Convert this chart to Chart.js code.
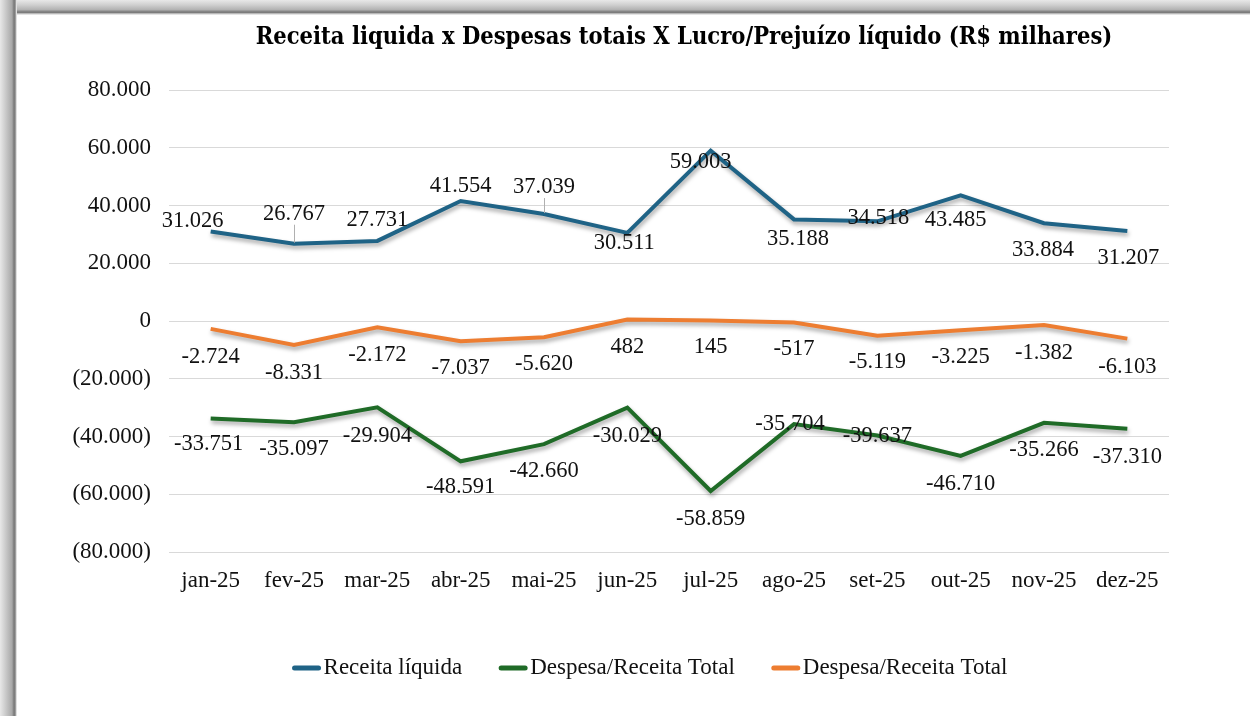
<!DOCTYPE html>
<html>
<head>
<meta charset="utf-8">
<script src="https://cdn.jsdelivr.net/npm/chart.js@4.4.1/dist/chart.umd.min.js"></script>
<style>
  html, body { margin: 0; padding: 0; background: #ffffff; width: 1250px; height: 716px; overflow: hidden; }
  #c { position: absolute; left: 0; top: 0; }
  .ftop { position: absolute; left: 0; top: 0; width: 1250px; height: 15px;
    background: linear-gradient(to bottom, #e8e8e8 0px, #cfcfcf 5px, #b0b0b0 10px, #8a8a8a 11px, #7c7c7c 12.5px, #b8b8b8 13.5px, #e4e4e4 14.5px, #ffffff 15px); }
  .fleft { position: absolute; left: 0; top: 0; width: 17px; height: 716px;
    background: linear-gradient(to right, #e8e8e8 0px, #c8c8c8 6px, #a8a8a8 12px, #858585 13.5px, #7a7a7a 15px, #c0c0c0 16px, #ffffff 17px); }
</style>
</head>
<body>
<canvas id="c" width="1250" height="716"></canvas>
<div class="ftop"></div>
<div class="fleft"></div>
<script>
// ---- data ----
const categories = ['jan-25','fev-25','mar-25','abr-25','mai-25','jun-25','jul-25','ago-25','set-25','out-25','nov-25','dez-25'];
const receitaLiquida = [31026, 26767, 27731, 41554, 37039, 30511, 59003, 35188, 34518, 43485, 33884, 31207];
const despesaTotal   = [-33751, -35097, -29904, -48591, -42660, -30029, -58859, -35704, -39637, -46710, -35266, -37310];
const lucroPrejuizo  = [-2724, -8331, -2172, -7037, -5620, 482, 145, -517, -5119, -3225, -1382, -6103];
const seriesNames = ['Receita líquida', 'Despesa/Receita Total', 'Despesa/Receita Total'];
const yMin = -80000, yMax = 80000, yStep = 20000;
const chartTitle = 'Receita liquida x Despesas totais X Lucro/Prejuízo líquido (R$ milhares)';

// ---- label placement (px offsets from each point) ----
const labelOffsets = [
  [[-18,-10],[0,-30],[0,-21],[0,-15],[0,-27],[-3,10],[-10,11],[4,20],[1,-3],[-5,25],[-1,27],[1,27]],
  [[-2,26],[0,27],[0,29],[0,26],[0,27],[0,28],[0,28],[-4,0],[0,1],[0,28],[0,27],[0,28]],
  [[0,28],[0,28],[0,28],[0,27],[0,27],[0,27],[0,27],[0,27],[0,26],[0,27],[0,28],[0,28]]
];
const leaderLines = [[1,4],[],[]];

const colors = ['#1f6386', '#1f6b27', '#ed7d31'];
const SERIF = '"Liberation Serif", "Times New Roman", serif';

function fmt(v) {
  const s = Math.abs(Math.round(v)).toString().replace(/\B(?=(\d{3})+(?!\d))/g, '.');
  return (v < 0 ? '-' : '') + s;
}
function fmtTick(v) {
  if (v === 0) return '0';
  const s = Math.abs(v).toString().replace(/\B(?=(\d{3})+(?!\d))/g, '.');
  return v < 0 ? '(' + s + ')' : s;
}

const shadowPlugin = {
  id: 'lineShadow',
  beforeDatasetDraw(chart) {
    const ctx = chart.ctx;
    ctx.save();
    ctx.shadowColor = 'rgba(0,0,0,0.35)';
    ctx.shadowBlur = 4;
    ctx.shadowOffsetX = 1;
    ctx.shadowOffsetY = 3;
  },
  afterDatasetDraw(chart) { chart.ctx.restore(); }
};

const labelPlugin = {
  id: 'valueLabels',
  afterDatasetsDraw(chart) {
    const ctx = chart.ctx;
    ctx.save();
    ctx.font = '22.5px ' + SERIF;
    ctx.textAlign = 'center';
    ctx.textBaseline = 'middle';
    chart.data.datasets.forEach((ds, di) => {
      const meta = chart.getDatasetMeta(di);
      meta.data.forEach((pt, i) => {
        const off = labelOffsets[di][i];
        const x = pt.x + off[0], y = pt.y + off[1];
        if (leaderLines[di].includes(i)) {
          ctx.strokeStyle = '#b0b0b0';
          ctx.lineWidth = 1;
          ctx.beginPath();
          ctx.moveTo(Math.round(pt.x) + 0.5, y + 11);
          ctx.lineTo(Math.round(pt.x) + 0.5, pt.y - 1);
          ctx.stroke();
        }
        ctx.fillStyle = '#111111';
        ctx.fillText(fmt(ds.data[i]), x, y);
      });
    });
    ctx.restore();
  }
};

const titleLegendPlugin = {
  id: 'titleLegend',
  afterDraw(chart) {
    const ctx = chart.ctx;
    ctx.save();
    // title
    ctx.font = 'bold 23.5px "DejaVu Serif Condensed", "DejaVu Serif", serif';
    ctx.fillStyle = '#000000';
    ctx.textAlign = 'center';
    ctx.textBaseline = 'middle';
    ctx.fillText(chartTitle, 684, 38);
    // legend
    ctx.font = '23px ' + SERIF;
    const sw = 28, gapText = 3, gapItem = 37;
    const widths = chart.data.datasets.map(d => ctx.measureText(d.label).width);
    let total = 0;
    widths.forEach((w, i) => { total += sw + gapText + w + (i < widths.length - 1 ? gapItem : 0); });
    let x = 650 - total / 2;
    const y = 668;
    ctx.textAlign = 'left';
    chart.data.datasets.forEach((d, i) => {
      ctx.strokeStyle = d.borderColor;
      ctx.lineWidth = 5;
      ctx.lineCap = 'round';
      ctx.beginPath();
      ctx.moveTo(x + 2, y);
      ctx.lineTo(x + sw - 2, y);
      ctx.stroke();
      ctx.fillStyle = '#111111';
      ctx.fillText(d.label, x + sw + gapText, y);
      x += sw + gapText + widths[i] + gapItem;
    });
    ctx.restore();
  }
};

const datasets = [receitaLiquida, despesaTotal, lucroPrejuizo].map((vals, i) => ({
  label: seriesNames[i],
  data: vals,
  borderColor: colors[i],
  backgroundColor: colors[i],
  borderWidth: 4,
  pointRadius: 0,
  pointHoverRadius: 0,
  tension: 0,
  fill: false
}));

new Chart(document.getElementById('c'), {
  type: 'line',
  data: { labels: categories, datasets },
  options: {
    responsive: false,
    animation: false,
    devicePixelRatio: 1,
    layout: { padding: { top: 90, right: 81, bottom: 0, left: 0 } },
    plugins: { legend: { display: false }, title: { display: false }, tooltip: { enabled: false } },
    scales: {
      x: {
        offset: true,
        grid: { display: false, drawTicks: false, offset: true },
        border: { display: false },
        ticks: { font: { family: SERIF, size: 23, lineHeight: 1.2 }, color: '#111111', padding: 15, maxRotation: 0, autoSkip: false },
        afterFit(axis) { axis.height = 164; }
      },
      y: {
        min: yMin, max: yMax,
        grid: { color: '#d9d9d9', lineWidth: 1, drawTicks: false },
        border: { display: false },
        ticks: { stepSize: yStep, font: { family: SERIF, size: 23 }, color: '#111111', padding: 18, callback: v => fmtTick(v) },
        afterFit(axis) { axis.width = 169; }
      }
    }
  },
  plugins: [shadowPlugin, labelPlugin, titleLegendPlugin]
});
</script>
</body>
</html>
